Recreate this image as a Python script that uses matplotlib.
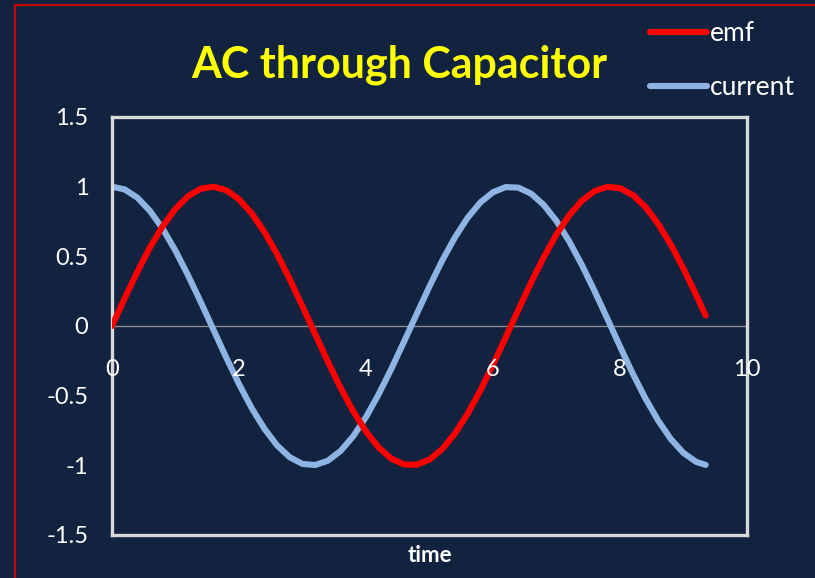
import matplotlib
matplotlib.use('Agg')
import matplotlib.pyplot as plt
from matplotlib.lines import Line2D

# time samples and the two waveforms (emf leads, current is the cosine)
time = [0.0, 0.2, 0.4, 0.6, 0.8, 1.0, 1.2, 1.4, 1.6, 1.8,
        2.0, 2.2, 2.4, 2.6, 2.8, 3.0, 3.2, 3.4, 3.6, 3.8,
        4.0, 4.2, 4.4, 4.6, 4.8, 5.0, 5.2, 5.4, 5.6, 5.8,
        6.0, 6.2, 6.4, 6.6, 6.8, 7.0, 7.2, 7.4, 7.6, 7.8,
        8.0, 8.2, 8.4, 8.6, 8.8, 9.0, 9.2, 9.35]
emf = [0.000, 0.199, 0.389, 0.565, 0.717, 0.841, 0.932, 0.985, 1.000, 0.974,
       0.909, 0.808, 0.675, 0.516, 0.335, 0.141, -0.058, -0.256, -0.443, -0.612,
       -0.757, -0.872, -0.952, -0.994, -0.996, -0.959, -0.883, -0.773, -0.631, -0.465,
       -0.279, -0.083, 0.117, 0.312, 0.494, 0.657, 0.794, 0.899, 0.968, 0.999,
       0.989, 0.941, 0.855, 0.734, 0.585, 0.412, 0.223, 0.075]
current = [1.000, 0.980, 0.921, 0.825, 0.697, 0.540, 0.362, 0.170, -0.029, -0.227,
           -0.416, -0.589, -0.737, -0.857, -0.942, -0.990, -0.998, -0.967, -0.897, -0.791,
           -0.654, -0.490, -0.307, -0.112, 0.087, 0.284, 0.469, 0.635, 0.776, 0.886,
           0.960, 0.997, 0.993, 0.950, 0.869, 0.754, 0.608, 0.438, 0.251, 0.054,
           -0.146, -0.340, -0.519, -0.677, -0.811, -0.911, -0.975, -0.997]

x_ticks = [0, 2, 4, 6, 8, 10]
y_ticks = [-1.5, -1, -0.5, 0, 0.5, 1, 1.5]
y_labels = ['-1.5', '-1', '-0.5', '0', '0.5', '1', '1.5']

BG = '#11233f'
FRAME = '#d9d9d9'

plt.rcParams['font.family'] = ['Lato', 'DejaVu Sans']

fig = plt.figure(figsize=(8.15, 5.78), dpi=100, facecolor=BG)
ax = fig.add_axes([0.1374, 0.0744, 0.7791, 0.7232])
ax.set_facecolor(BG)

ax.axhline(0, color='#8c8c8c', lw=1.0, zorder=1)
ax.plot(time, emf, color='#ff0000', lw=4.4, solid_capstyle='round',
        solid_joinstyle='round', label='emf', zorder=3)
ax.plot(time, current, color='#8db4e2', lw=4.4, solid_capstyle='round',
        solid_joinstyle='round', label='current', zorder=2)

ax.set_xlim(0, 10)
ax.set_ylim(-1.5, 1.5)
for sp in ax.spines.values():
    sp.set_color(FRAME)
    sp.set_linewidth(2.4)

ax.set_yticks(y_ticks)
ax.set_yticklabels(y_labels)
ax.tick_params(axis='y', length=0, pad=17, labelcolor='white', labelsize=17)
ax.set_xticks([])

# x labels hang under the zero line (halfway up) and sit on top of the curves
sec = ax.secondary_xaxis(0.5)
sec.set_xticks(x_ticks)
sec.xaxis.set_ticks_position('bottom')
sec.spines['bottom'].set_visible(False)
sec.spines['top'].set_visible(False)
sec.tick_params(length=0, pad=24, labelcolor='white', labelsize=17,
                labelbottom=True, labeltop=False)
sec.set_zorder(10)

ax.set_xlabel('time', color='white', fontsize=16, fontweight='bold', labelpad=7)

fig.text(0.49, 0.888, 'AC through Capacitor', color='#ffff00', fontsize=31,
         fontweight='bold', ha='center', va='center')

leg = ax.legend(loc='upper left', bbox_to_anchor=(0.7975, 0.963),
                bbox_transform=fig.transFigure, frameon=False, fontsize=19,
                handlelength=2.15, handletextpad=0.12, labelspacing=1.1,
                borderpad=0, borderaxespad=0)
for txt in leg.get_texts():
    txt.set_color('white')
for line in leg.get_lines():
    line.set_solid_capstyle('round')

# red outline along the left and top edges
fig.add_artist(Line2D([0.0184, 0.0184], [0.0, 0.991], color='#c00000', lw=1.6,
                      transform=fig.transFigure))
fig.add_artist(Line2D([0.0184, 1.0], [0.991, 0.991], color='#c00000', lw=1.6,
                      transform=fig.transFigure))

fig.savefig('out.png', dpi=100, facecolor=BG)
